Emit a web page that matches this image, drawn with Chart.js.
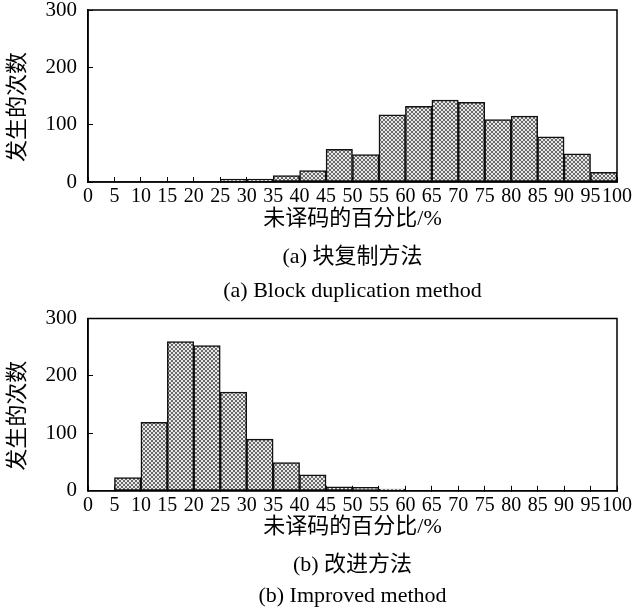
<!DOCTYPE html>
<html>
<head>
<meta charset="utf-8">
<script src="https://cdn.jsdelivr.net/npm/chart.js@4/dist/chart.umd.min.js"></script>
<style>
  html, body { margin: 0; padding: 0; background: #fff; }
  .box { position: relative; width: 640px; }
</style>
</head>
<body>
<div class="box" style="height:305px"><canvas id="chartA"></canvas></div>
<div class="box" style="height:304px"><canvas id="chartB"></canvas></div>
<script>
// bin edges of the histograms (also the x tick labels)
const binEdges = [0, 5, 10, 15, 20, 25, 30, 35, 40, 45, 50, 55, 60, 65, 70, 75, 80, 85, 90, 95, 100];
const yTicks = [0, 100, 200, 300];

// counts per 5% bin
const blockDupCounts = [0, 0, 0, 0, 0, 5, 5, 11, 20, 57, 48, 117, 132, 143, 139, 109, 115, 79, 49, 17];
const improvedCounts = [0, 23, 119, 260, 253, 172, 90, 49, 28, 7, 6, 3, 0, 0, 0, 0, 0, 0, 0, 0];

const yTitle = "发生的次数\u3000";
const xTitle = "未译码的百分比/%";
const captionsA = ["(a) 块复制方法", "(a) Block duplication method"];
const captionsB = ["(b) 改进方法", "(b) Improved method"];

const FONT = "'Liberation Serif', 'Noto Sans CJK SC', serif";

function makePattern() {
  const c = document.createElement("canvas");
  c.width = 4;
  c.height = 4;
  const g = c.getContext("2d");
  g.fillStyle = "#e8e8e8";
  g.fillRect(0, 0, 4, 4);
  g.fillStyle = "#6a6a6a";
  for (let i = 0; i < 4; i++) {
    g.fillRect(i, i, 1, 1);
    g.fillRect(3 - i, i, 1, 1);
  }
  return g.createPattern(c, "repeat");
}

const frame = {
  id: "frame",
  afterDraw(chart) {
    const a = chart.chartArea;
    const ctx = chart.ctx;
    ctx.save();
    ctx.strokeStyle = "#000";
    ctx.lineWidth = 1.5;
    ctx.strokeRect(a.left, a.top, a.right - a.left, a.bottom - a.top);
    ctx.restore();
  }
};

function buildChart(id, counts, captions, opts) {
  const points = counts.map((v, i) => ({ x: (binEdges[i] + binEdges[i + 1]) / 2, y: v }));
  const pattern = makePattern();
  return new Chart(document.getElementById(id), {
    type: "bar",
    data: {
      datasets: [{
        data: points,
        backgroundColor: pattern,
        borderColor: "#111",
        borderWidth: (c) => (c.raw && c.raw.y > 0 ? 1.5 : 0),
        borderSkipped: false,
        barPercentage: 1,
        categoryPercentage: 1
      }]
    },
    options: {
      responsive: true,
      maintainAspectRatio: false,
      animation: false,
      layout: { padding: { top: opts.top, right: 23, left: 0, bottom: 0 } },
      plugins: {
        legend: { display: false },
        tooltip: { enabled: false },
        subtitle: {
          display: true,
          text: captions[0],
          position: "bottom",
          fullSize: false,
          color: "#000",
          font: { family: FONT, size: 22, weight: "normal", lineHeight: 1.2 },
          padding: opts.subPad
        },
        title: {
          display: true,
          text: captions[1],
          position: "bottom",
          fullSize: false,
          color: "#000",
          font: { family: FONT, size: 22, weight: "normal", lineHeight: 1.2 },
          padding: opts.titlePad
        }
      },
      scales: {
        x: {
          type: "linear",
          min: 0,
          max: 100,
          offset: false,
          afterFit: (s) => {
            s.height = 52;
            s.paddingLeft = 0;
            s.paddingRight = 0;
          },
          afterBuildTicks: (s) => { s.ticks = binEdges.map((v) => ({ value: v })); },
          border: { color: "#000", width: 1.5 },
          grid: { drawOnChartArea: false, offset: false, tickLength: -5, color: "#000", lineWidth: 1 },
          ticks: {
            autoSkip: false,
            maxRotation: 0,
            minRotation: 0,
            padding: 10,
            color: "#000",
            font: { family: FONT, size: 20, lineHeight: 1 }
          },
          title: {
            display: true,
            text: xTitle,
            color: "#000",
            font: { family: FONT, size: 22, lineHeight: 1.2 },
            padding: { top: 0, bottom: 2 }
          }
        },
        y: {
          min: 0,
          max: 300,
          afterFit: (s) => {
            s.width = 88;
            s.paddingTop = 0;
            s.paddingBottom = 0;
          },
          afterBuildTicks: (s) => { s.ticks = yTicks.map((v) => ({ value: v })); },
          border: { color: "#000", width: 1.5 },
          grid: { drawOnChartArea: false, tickLength: -5, color: "#000", lineWidth: 1 },
          ticks: {
            padding: 16,
            color: "#000",
            font: { family: FONT, size: 21, lineHeight: 1 }
          },
          title: {
            display: true,
            text: yTitle,
            color: "#000",
            font: { family: FONT, size: 22, lineHeight: 1.2 },
            padding: { top: 5, bottom: 0 }
          }
        }
      }
    },
    plugins: [frame]
  });
}

buildChart("chartA", blockDupCounts, captionsA, {
  top: 10,
  subPad: { top: 10, bottom: 0 },
  titlePad: { top: 7.4, bottom: 0.8 }
});
buildChart("chartB", improvedCounts, captionsB, {
  top: 13.5,
  subPad: { top: 8.8, bottom: 0 },
  titlePad: { top: 4.6, bottom: 0 }
});
</script>
</body>
</html>
